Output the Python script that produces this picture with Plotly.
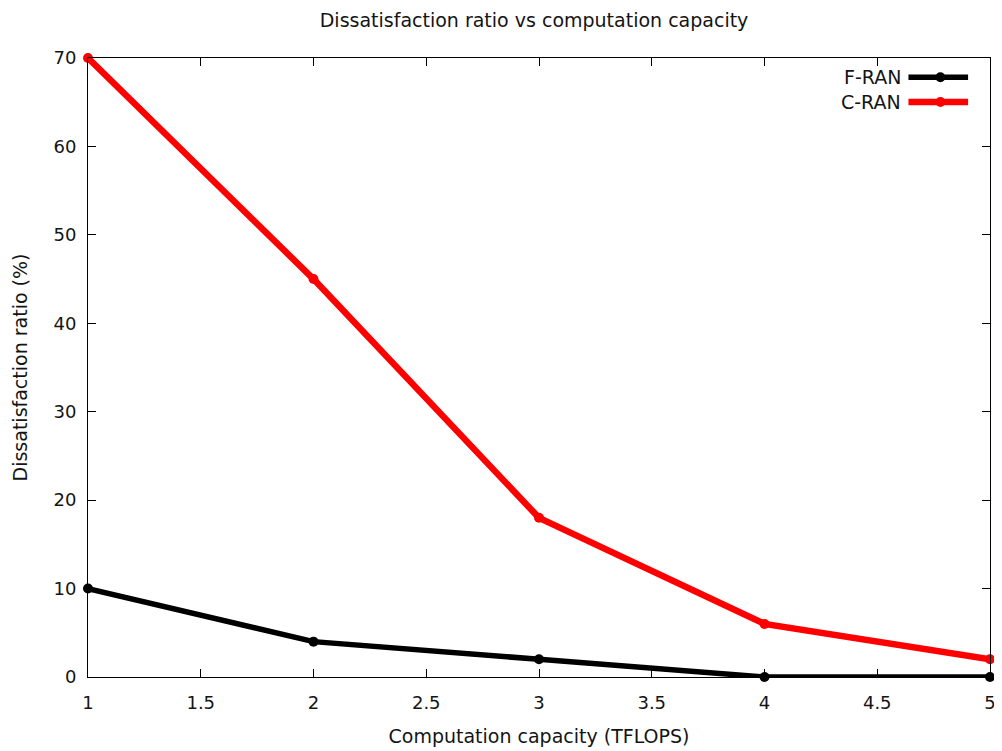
import plotly.graph_objects as go

capacity = [1, 2, 3, 4, 5]
f_ran = [10, 4, 2, 0, 0]
c_ran = [70, 45, 18, 6, 2]
series_names = ["F-RAN", "C-RAN"]
series_colors = ["#000000", "#ff0000"]
series_widths = [5.5, 6.5]

x_ticks = [1, 1.5, 2, 2.5, 3, 3.5, 4, 4.5, 5]
x_ticklabels = ["1", "1.5", "2", "2.5", "3", "3.5", "4", "4.5", "5"]
y_ticks = [0, 10, 20, 30, 40, 50, 60, 70]

FONT = "DejaVu Sans"
TXT = "#141414"

fig = go.Figure()
for name, vals, col, w in zip(series_names, [f_ran, c_ran], series_colors, series_widths):
    fig.add_trace(go.Scatter(
        x=capacity, y=vals, name=name, mode="lines+markers",
        line=dict(color=col, width=w),
        marker=dict(color=col, size=10, symbol="circle"),
        cliponaxis=False, showlegend=False,
    ))

# gnuplot-style legend (text left of sample)
for i, (name, col, w) in enumerate(zip(series_names, series_colors, series_widths)):
    yp = 0.969 - i * 0.040
    fig.add_annotation(xref="paper", yref="paper", x=0.904, y=yp, text=name,
                       showarrow=False, xanchor="right", yanchor="middle",
                       font=dict(family=FONT, size=19, color=TXT))
    fig.add_shape(type="line", xref="paper", yref="paper",
                  x0=0.9096, x1=0.9757, y0=yp, y1=yp,
                  line=dict(color=col, width=w))
    fig.add_shape(type="circle", xref="paper", yref="paper",
                  x0=0.945 - 0.0055, x1=0.945 + 0.0055,
                  y0=yp - 0.008, y1=yp + 0.008,
                  fillcolor=col, line=dict(color=col, width=0))

axis_common = dict(
    showline=True, linecolor="black", linewidth=1, mirror="ticks",
    ticks="inside", ticklen=8, tickwidth=1, tickcolor="black",
    showgrid=False, zeroline=False,
    tickfont=dict(family=FONT, size=18, color=TXT),
)

fig.update_layout(
    width=1002, height=751,
    margin=dict(l=75, r=20, t=50, b=82),
    paper_bgcolor="white", plot_bgcolor="white",
    title=dict(text="Dissatisfaction ratio vs computation capacity",
               x=0.525, xanchor="center", y=0.984, yanchor="middle",
               font=dict(family=FONT, size=19, color=TXT)),
    xaxis=dict(range=[1, 5], tickvals=x_ticks, ticktext=x_ticklabels,
               ticklabelstandoff=9,
               title=dict(text="Computation capacity (TFLOPS)", standoff=18,
                          font=dict(family=FONT, size=19, color=TXT)),
               **axis_common),
    yaxis=dict(range=[0, 70], tickvals=y_ticks, ticklabelstandoff=7,
               title=dict(text="Dissatisfaction ratio (%)", standoff=20,
                          font=dict(family=FONT, size=19, color=TXT)),
               **axis_common),
)

fig.write_html("out.html")
